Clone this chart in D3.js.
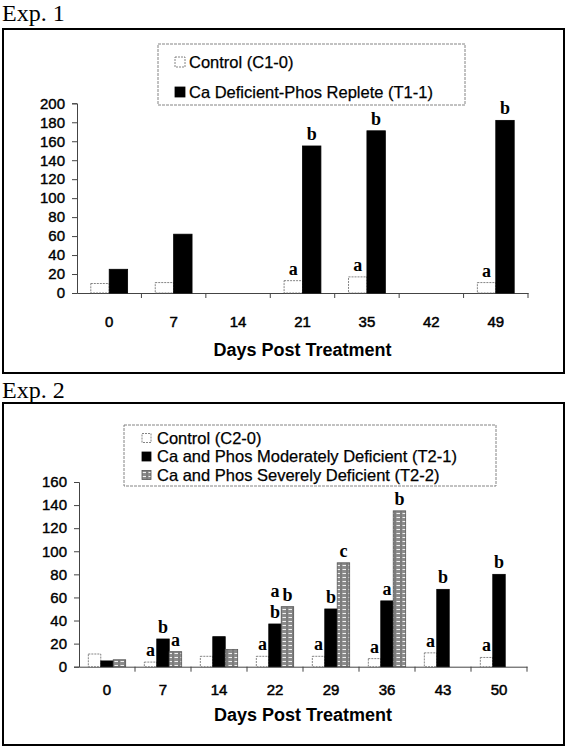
<!DOCTYPE html>
<html>
<head>
<meta charset="utf-8">
<script src="https://cdn.jsdelivr.net/npm/d3@7"></script>
<style>
body { margin: 0; background: #fff; }
svg { display: block; }
</style>
</head>
<body>
<svg id="fig"></svg>
<script>
// ---- Exp. 1 ----
const days1 = ["0", "7", "14", "21", "35", "42", "49"];
const control1 = [10, 11, null, 13, 17, null, 11];
const replete1 = [25, 62, null, 155, 171, null, 182];
const control1Letters = ["", "", "", "a", "a", "", "a"];
const replete1Letters = ["", "", "", "b", "b", "", "b"];
const yTicks1 = [0, 20, 40, 60, 80, 100, 120, 140, 160, 180, 200];
const legend1 = ["Control (C1-0)", "Ca Deficient-Phos Replete (T1-1)"];

// ---- Exp. 2 ----
const days2 = ["0", "7", "14", "22", "29", "36", "43", "50"];
const control2 = [11, 4, 9, 9, 9, 7, 12, 8];
const moderate2 = [5, 24, 26, 37, 50, 57, 67, 80];
const severe2 = [6, 13, 15, 52, 90, 135, null, null];
const control2Letters = ["", "a", "", "a", "a", "a", "a", "a"];
const moderate2Letters = ["", "b", "", "ab", "b", "a", "b", "b"];
const severe2Letters = ["", "a", "", "b", "c", "b", "", ""];
const yTicks2 = [0, 20, 40, 60, 80, 100, 120, 140, 160];
const legend2 = ["Control (C2-0)", "Ca and Phos Moderately Deficient (T2-1)", "Ca and Phos Severely Deficient (T2-2)"];

const svg = d3.select('#fig').attr('width', 566).attr('height', 750);

// hatched grey fill for the severe series
const defs = svg.append('defs');
const pat = defs.append('pattern')
    .attr('id', 'hatch')
    .attr('patternUnits', 'userSpaceOnUse')
    .attr('width', 6).attr('height', 4);
pat.append('rect').attr('width', 6).attr('height', 4).attr('fill', '#8c8c8c');
pat.append('line').attr('x1', 0.5).attr('x2', 4).attr('y1', 1.5).attr('y2', 1.5)
    .attr('stroke', '#f2f2f2').attr('stroke-width', 1);
pat.append('line').attr('x1', 5).attr('x2', 5).attr('y1', 0).attr('y2', 4)
    .attr('stroke', '#555').attr('stroke-width', 0.6);

const styles = {
    control: { fill: '#fff', stroke: '#666', dash: '2,1' },
    solid: { fill: '#000', stroke: '#000', dash: null },
    hatch: { fill: 'url(#hatch)', stroke: '#555', dash: null }
};

class groupedBarChart {

    constructor(config, data) {
        this.config = config;
        this.data = data;
        this.init();
    }

    init() {
        let self = this;
        const c = self.config;
        self.chart = svg.append('g');

        self.chart.append('text')
            .attr('x', 2).attr('y', c.labelY)
            .attr('font-family', '"Liberation Serif", "Times New Roman", serif')
            .attr('font-size', 24)
            .text(c.label);

        self.chart.append('rect')
            .attr('x', c.box.x).attr('y', c.box.y)
            .attr('width', c.box.w).attr('height', c.box.h)
            .attr('fill', 'none').attr('stroke', '#000').attr('stroke-width', 2);

        const n = self.data.series.length;
        const g = 1.5 / (n + 1.5);   // Excel gap width 150%
        self.xscale = d3.scaleBand()
            .domain(self.data.categories)
            .range([c.plot.left, c.plot.right])
            .paddingInner(g)
            .paddingOuter(g / 2);
        self.inner = d3.scaleBand()
            .domain(d3.range(n))
            .range([0, self.xscale.bandwidth()]);
        self.yscale = d3.scaleLinear()
            .domain([0, d3.max(self.data.yTicks)])
            .range([c.plot.bottom, c.plot.top]);
    }

    render() {
        let self = this;
        const c = self.config;
        const sans = '"Liberation Sans", Arial, sans-serif';

        // y axis
        const yaxis = d3.axisLeft(self.yscale)
            .tickValues(self.data.yTicks)
            .tickSize(5).tickPadding(7);
        const yg = self.chart.append('g')
            .attr('transform', `translate(${c.plot.left}, 0)`)
            .call(yaxis);
        yg.selectAll('text')
            .attr('font-family', sans).attr('font-size', 15).attr('fill', '#000')
            .attr('stroke', '#000').attr('stroke-width', 0.4);
        yg.selectAll('line, path').attr('stroke', '#444');

        // x axis: labels centred, ticks on category boundaries
        const xaxis = d3.axisBottom(self.xscale).tickSize(0).tickPadding(c.xLabelPad);
        const xg = self.chart.append('g')
            .attr('transform', `translate(0, ${c.plot.bottom})`)
            .call(xaxis);
        xg.selectAll('text')
            .attr('font-family', sans).attr('font-size', 15).attr('fill', '#000')
            .attr('stroke', '#000').attr('stroke-width', 0.5);
        xg.select('path').attr('stroke', '#444');
        const step = self.xscale.step();
        xg.selectAll('.bound')
            .data(d3.range(1, self.data.categories.length + 1))
            .join('line')
            .attr('class', 'bound')
            .attr('x1', i => c.plot.left + i * step)
            .attr('x2', i => c.plot.left + i * step)
            .attr('y1', 0).attr('y2', 5)
            .attr('stroke', '#444');

        self.chart.append('text')
            .attr('x', (c.plot.left + c.plot.right) / 2)
            .attr('y', c.titleY)
            .attr('text-anchor', 'middle')
            .attr('font-family', sans).attr('font-size', 18).attr('font-weight', 'bold')
            .text('Days Post Treatment');

        // bars + significance letters
        self.data.series.forEach((s, si) => {
            const st = styles[s.style];
            const rows = self.data.categories.map((cat, i) => ({ cat: cat, v: s.values[i], l: s.letters[i] }))
                .filter(d => d.v !== null);
            const x = d => self.xscale(d.cat) + self.inner(si);
            self.chart.append('g').selectAll('rect')
                .data(rows)
                .join('rect')
                .attr('x', x)
                .attr('y', d => self.yscale(d.v))
                .attr('width', self.inner.bandwidth())
                .attr('height', d => self.yscale(0) - self.yscale(d.v))
                .attr('fill', st.fill)
                .attr('stroke', st.stroke)
                .attr('stroke-width', 0.8)
                .attr('stroke-dasharray', st.dash);
            const lt = self.chart.append('g').selectAll('text')
                .data(rows.filter(d => d.l))
                .join('text')
                .attr('x', d => x(d) + self.inner.bandwidth() / 2)
                .attr('y', d => self.yscale(d.v) - 6)
                .attr('text-anchor', 'middle')
                .attr('font-family', '"Liberation Serif", "Times New Roman", serif')
                .attr('font-size', 18).attr('font-weight', 'bold');
            lt.selectAll('tspan')
                .data(d => d.l.split('').map((ch, k, arr) => ({ ch: ch, dy: k === 0 ? -(arr.length - 1) * 21 : 21 })))
                .join('tspan')
                .attr('x', function () { return d3.select(this.parentNode).attr('x'); })
                .attr('dy', d => d.dy)
                .text(d => d.ch);
        });

        // legend
        const L = c.legend;
        self.chart.append('rect')
            .attr('x', L.x).attr('y', L.y).attr('width', L.w).attr('height', L.h)
            .attr('fill', '#fff').attr('stroke', '#666').attr('stroke-width', 0.8)
            .attr('stroke-dasharray', '3,1');
        const items = self.chart.append('g').selectAll('g')
            .data(self.data.series)
            .join('g')
            .attr('transform', (d, i) => `translate(${L.mx}, ${L.rows[i]})`);
        items.append('rect')
            .attr('x', 0).attr('y', -L.ms / 2)
            .attr('width', L.ms).attr('height', L.ms)
            .attr('fill', d => styles[d.style].fill)
            .attr('stroke', d => styles[d.style].stroke)
            .attr('stroke-width', 0.8)
            .attr('stroke-dasharray', d => styles[d.style].dash);
        items.append('text')
            .attr('x', L.tx - L.mx).attr('y', 0)
            .attr('dy', '0.35em')
            .attr('font-family', sans).attr('font-size', L.fs)
            .attr('stroke', '#000').attr('stroke-width', 0.25)
            .text(d => d.name);
    }
}

const chart1 = new groupedBarChart({
    label: 'Exp. 1', labelY: 21,
    box: { x: 3, y: 29, w: 561, h: 344 },
    plot: { left: 77, right: 528, top: 103.3, bottom: 293 },
    xLabelPad: 23, titleY: 356,
    legend: { x: 158, y: 44, w: 307, h: 61, rows: [62, 92], mx: 175, ms: 10, tx: 189, fs: 16.5 }
}, {
    categories: days1,
    yTicks: yTicks1,
    series: [
        { name: legend1[0], values: control1, letters: control1Letters, style: 'control' },
        { name: legend1[1], values: replete1, letters: replete1Letters, style: 'solid' }
    ]
});
chart1.render();

const chart2 = new groupedBarChart({
    label: 'Exp. 2', labelY: 398,
    box: { x: 3, y: 403, w: 561, h: 342 },
    plot: { left: 79, right: 527, top: 482, bottom: 666.7 },
    xLabelPad: 18, titleY: 721,
    legend: { x: 124, y: 425, w: 372, h: 61, rows: [438, 456.5, 475], mx: 142, ms: 9, tx: 157, fs: 16.5 }
}, {
    categories: days2,
    yTicks: yTicks2,
    series: [
        { name: legend2[0], values: control2, letters: control2Letters, style: 'control' },
        { name: legend2[1], values: moderate2, letters: moderate2Letters, style: 'solid' },
        { name: legend2[2], values: severe2, letters: severe2Letters, style: 'hatch' }
    ]
});
chart2.render();
</script>
</body>
</html>
